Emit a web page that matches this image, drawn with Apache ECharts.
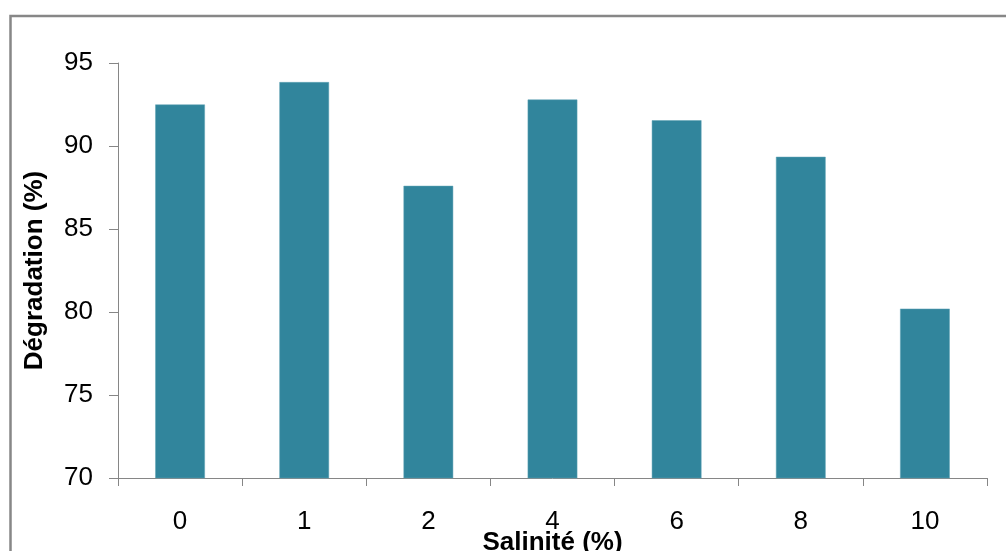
<!DOCTYPE html>
<html>
<head>
<meta charset="utf-8">
<script src="https://cdn.jsdelivr.net/npm/echarts@6/dist/echarts.min.js"></script>
<style>
html,body{margin:0;padding:0;background:#fff;}
#chart{width:1006px;height:551px;}
</style>
</head>
<body>
<div id="chart"></div>
<script>
const categories = ['0', '1', '2', '4', '6', '8', '10'];
const degradation = [92.5, 93.85, 87.6, 92.8, 91.55, 89.35, 80.2];
const yMin = 70, yMax = 95, yStep = 5;
const xTitle = 'Salinité (%)';
const yTitle = 'Dégradation (%)';

const chart = echarts.init(document.getElementById('chart'), null, {renderer: 'canvas'});
const font = '"Liberation Sans", Arial, sans-serif';
chart.setOption({
  animation: false,
  backgroundColor: '#ffffff',
  graphic: [{
    type: 'rect',
    shape: {x: 10.5, y: 16, width: 1200, height: 800},
    style: {fill: 'none', stroke: '#878787', lineWidth: 2.5},
    silent: true
  }],
  grid: {left: 118, right: 19, top: 63, bottom: 73, containLabel: false, outerBoundsMode: 'none'},
  xAxis: {
    type: 'category',
    data: categories,
    name: xTitle,
    nameLocation: 'middle',
    nameGap: 52,
    nameMoveOverlap: false,
    nameTextStyle: {fontFamily: font, fontSize: 26, fontWeight: 'bold', color: '#000'},
    axisLine: {show: true, lineStyle: {color: '#868686', width: 1}},
    axisTick: {show: true, length: 8, alignWithLabel: false, lineStyle: {color: '#868686'}},
    axisLabel: {fontFamily: font, fontSize: 26, color: '#000', margin: 31},
    splitLine: {show: false}
  },
  yAxis: {
    type: 'value',
    min: yMin, max: yMax, interval: yStep,
    name: yTitle,
    nameLocation: 'middle',
    nameGap: 70,
    nameRotate: 90,
    nameMoveOverlap: false,
    nameTextStyle: {fontFamily: font, fontSize: 26, fontWeight: 'bold', color: '#000'},
    axisLine: {show: true, lineStyle: {color: '#868686', width: 1}},
    axisTick: {show: true, length: 9, lineStyle: {color: '#868686'}},
    axisLabel: {fontFamily: font, fontSize: 26, color: '#000', margin: 25},
    splitLine: {show: false}
  },
  series: [{
    type: 'bar',
    data: degradation,
    barWidth: '40%',
    itemStyle: {color: '#31859C', borderColor: '#5fa3b5', borderWidth: 0.5}
  }]
});
</script>
</body>
</html>
